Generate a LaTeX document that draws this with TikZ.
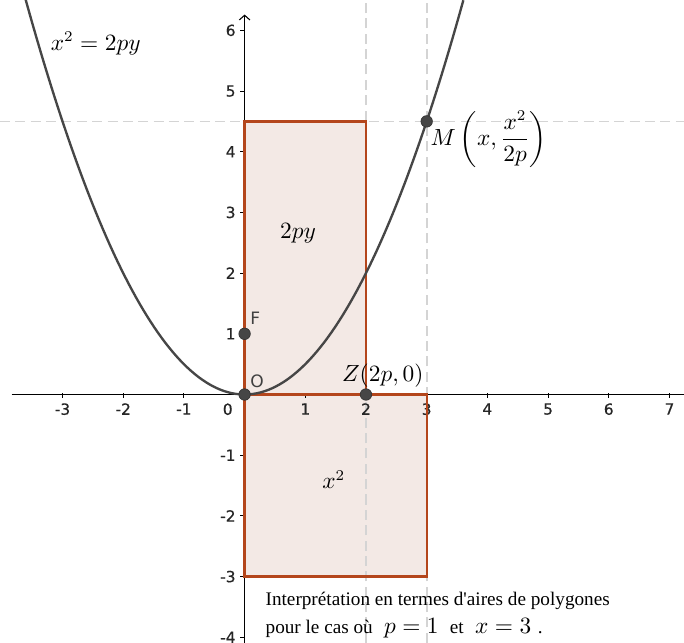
\documentclass[tikz,border=0pt]{standalone}
\usepackage{amsmath}
\usepackage[no-math]{fontspec}
\setmainfont{Liberation Serif}[Ligatures=TeXOff]
\newfontfamily\ggbfont{DejaVu Sans}[FakeBold=0.6]
\newfontfamily\ptfont{DejaVu Sans}
\usetikzlibrary{arrows.meta}
\definecolor{areaedge}{RGB}{180,70,28}
\definecolor{areafill}{RGB}{243,233,229}
\definecolor{curvegray}{RGB}{70,70,70}
\definecolor{guidegray}{RGB}{212,212,212}

\begin{document}
\begin{tikzpicture}[every node/.style={font=\fontsize{10.5}{12}\selectfont},
	axis/.style={black, line width=0.5pt},
	guide/.style={guidegray, line width=0.8pt, dash pattern=on 4.7pt off 2.5pt},
	areabox/.style={draw=areaedge, line width=1.1pt},
	pt/.style={circle, fill=curvegray, draw=black!80, line width=0.3pt, inner sep=0pt, minimum size=5.4pt},
	ticklab/.style={font=\ggbfont\fontsize{7.2}{8}\selectfont, text=black!85, inner sep=0pt},
	ptlab/.style={font=\ptfont\fontsize{8}{9}\selectfont, text=black!75, inner sep=0pt, anchor=base west}]
	\useasboundingbox (-4.03,-4.09) rectangle (7.24,6.50);
	\fill[areafill] (0,0) rectangle (2,4.5);
	\fill[areafill] (0,0) rectangle (3,-3);
	\draw[guide] (2,-4.09) -- (2,6.50);
	\draw[guide] (3,-4.09) -- (3,6.50);
	\draw[guide] (-4.03,4.5) -- (7.24,4.5);
	\draw[axis] (-3.84,0) -- (7.24,0);
	\draw[axis, -{Straight Barb[length=2.2pt, width=5pt]}] (0,-4.09) -- (0,6.26);
	\foreach \k in {-3,-2,-1,1,2,...,7}
		\draw[axis] (\k,0.02) -- (\k,-0.06) node[ticklab, anchor=north, yshift=-2.2pt] (xt\k) {\k};
	\foreach \k in {-4,-3,-2,-1,1,2,...,6}
		\draw[axis] (0,\k) -- (-0.07,\k) node[ticklab, anchor=east, xshift=-2pt] (yt\k) {\k};
	\node[ticklab, anchor=north east] (zero) at (-0.19,-0.14) {0};
	\draw[areabox] (0,0) rectangle (2,4.5);
	\draw[areabox] (0,0) rectangle (3,-3);
	\draw[curvegray, line width=1.1pt, domain=-3.606:3.606, samples=120] plot (\x, {\x*\x/2});
	\node[pt] (O) at (0,0) {};
	\node[pt] (F) at (0,1) {};
	\node[pt] (Z) at (2,0) {};
	\node[pt] (M) at (3,4.5) {};
	\node[ptlab] (Olab) at (0.09,0.12) {O};
	\node[ptlab] (Flab) at (0.09,1.15) {F};
	\node[inner sep=0pt, anchor=base west] (Zlab) at (1.60,0.21) {$Z(2p,0)$};
	\node[inner sep=0pt, anchor=base west] (Mlab) at (3.06,4.11) {$M\left(x,\dfrac{x^2}{2p}\right)$};
	\node[inner sep=0pt, anchor=base west] (eq) at (-3.20,5.67) {$x^2=2py$};
	\node[inner sep=0pt] (rect1) at (0.88,2.66) {$2py$};
	\node[inner sep=0pt] (rect2) at (1.47,-1.40) {$x^2$};
	\node[inner sep=0pt, anchor=base west, align=left, font=\fontsize{9}{13}\selectfont] (note) at (0.34,-3.93)
		{Interprétation en termes d'aires de polygones\\pour le cas où {\fontsize{11}{13}\selectfont$\;p=1\;$} et {\fontsize{11}{13}\selectfont$\;x=3\;$}.};
\end{tikzpicture}
\end{document}
